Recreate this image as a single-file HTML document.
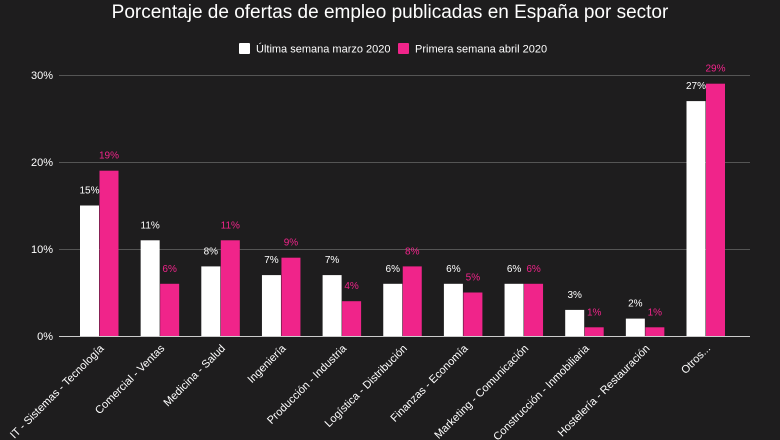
<!DOCTYPE html>
<html><head><meta charset="utf-8"><style>
html,body{margin:0;padding:0;background:#1e1d1e;}
svg{display:block;font-family:"Liberation Sans",Arial,sans-serif;}
</style></head><body>
<svg width="780" height="440" viewBox="0 0 780 440">
<rect width="780" height="440" fill="#1e1d1e"/>
<text x="390" y="18" text-anchor="middle" fill="#ffffff" font-size="19">Porcentaje de ofertas de empleo publicadas en España por sector</text>
<rect x="239" y="43" width="11" height="11" fill="#fff" rx="1"/>
<text x="256" y="52.5" fill="#fff" font-size="11">Última semana marzo 2020</text>
<rect x="398" y="43" width="11" height="11" fill="#f0248a" rx="1"/>
<text x="415" y="52.5" fill="#fff" font-size="11">Primera semana abril 2020</text>
<g stroke="#555" stroke-width="1">
<line x1="59" y1="75.5" x2="750" y2="75.5"/>
<line x1="59" y1="162.5" x2="750" y2="162.5"/>
<line x1="59" y1="249.5" x2="750" y2="249.5"/>
</g>
<g fill="#fff" font-size="11" text-anchor="end">
<text x="53" y="79">30%</text><text x="53" y="166">20%</text><text x="53" y="253">10%</text><text x="53" y="340">0%</text>
</g>
<g fill="#fff">
<rect x="80" y="205.5" width="19" height="130.5"/>
<rect x="140.65" y="240.3" width="19" height="95.7"/>
<rect x="201.3" y="266.4" width="19" height="69.6"/>
<rect x="261.95" y="275.1" width="19" height="60.9"/>
<rect x="322.6" y="275.1" width="19" height="60.9"/>
<rect x="383.25" y="283.8" width="19" height="52.2"/>
<rect x="443.9" y="283.8" width="19" height="52.2"/>
<rect x="504.55" y="283.8" width="19" height="52.2"/>
<rect x="565.2" y="309.9" width="19" height="26.1"/>
<rect x="625.85" y="318.6" width="19" height="17.4"/>
<rect x="686.5" y="101.1" width="19" height="234.9"/>
</g>
<g fill="#f0248a">
<rect x="99.5" y="170.7" width="19" height="165.3"/>
<rect x="160.15" y="283.8" width="19" height="52.2"/>
<rect x="220.8" y="240.3" width="19" height="95.7"/>
<rect x="281.45" y="257.7" width="19" height="78.3"/>
<rect x="342.1" y="301.2" width="19" height="34.8"/>
<rect x="402.75" y="266.4" width="19" height="69.6"/>
<rect x="463.4" y="292.5" width="19" height="43.5"/>
<rect x="524.05" y="283.8" width="19" height="52.2"/>
<rect x="584.7" y="327.3" width="19" height="8.7"/>
<rect x="645.35" y="327.3" width="19" height="8.7"/>
<rect x="706" y="83.7" width="19" height="252.3"/>
</g>
<g fill="#fff" font-size="10" text-anchor="middle" transform="translate(0,-3)">
<text x="89.5" y="196.5">15%</text>
<text x="150.15" y="231.3">11%</text>
<text x="210.8" y="257.4">8%</text>
<text x="271.45" y="266.1">7%</text>
<text x="332.1" y="266.1">7%</text>
<text x="392.75" y="274.8">6%</text>
<text x="453.4" y="274.8">6%</text>
<text x="514.05" y="274.8">6%</text>
<text x="574.7" y="300.9">3%</text>
<text x="635.35" y="309.6">2%</text>
<text x="696" y="92.1">27%</text>
</g>
<g fill="#f0248a" font-size="10" text-anchor="middle" transform="translate(0,-3)">
<text x="109" y="161.7">19%</text>
<text x="169.65" y="274.8">6%</text>
<text x="230.3" y="231.3">11%</text>
<text x="290.95" y="248.7">9%</text>
<text x="351.6" y="292.2">4%</text>
<text x="412.25" y="257.4">8%</text>
<text x="472.9" y="283.5">5%</text>
<text x="533.55" y="274.8">6%</text>
<text x="594.2" y="318.3">1%</text>
<text x="654.85" y="318.3">1%</text>
<text x="715.5" y="74.7">29%</text>
</g>
<line x1="59" y1="336.5" x2="750" y2="336.5" stroke="#ccc" stroke-width="1"/>
<g fill="#fff" font-size="11" text-anchor="end">
<text transform="translate(104.5,349) rotate(-45)">IT - Sistemas - Tecnología</text>
<text transform="translate(165.15,349) rotate(-45)">Comercial - Ventas</text>
<text transform="translate(225.8,349) rotate(-45)">Medicina - Salud</text>
<text transform="translate(286.45,349) rotate(-45)">Ingeniería</text>
<text transform="translate(347.1,349) rotate(-45)">Producción - Industria</text>
<text transform="translate(407.75,349) rotate(-45)">Logística - Distribución</text>
<text transform="translate(468.4,349) rotate(-45)">Finanzas - Economía</text>
<text transform="translate(529.05,349) rotate(-45)">Marketing - Comunicación</text>
<text transform="translate(589.7,349) rotate(-45)">Construcción - Inmobiliaria</text>
<text transform="translate(650.35,349) rotate(-45)">Hostelería - Restauración</text>
<text transform="translate(711,349) rotate(-45)">Otros...</text>
</g>
</svg>
</body></html>
